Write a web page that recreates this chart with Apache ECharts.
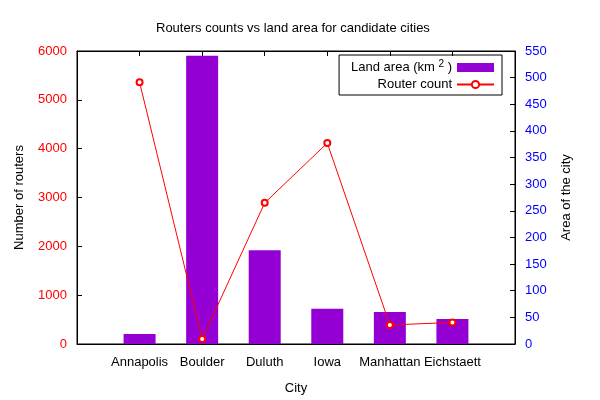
<!DOCTYPE html>
<html>
<head>
<meta charset="utf-8">
<script src="https://cdn.jsdelivr.net/npm/echarts@6/dist/echarts.min.js"></script>
<style>
    html, body { margin: 0; padding: 0; background: #fff; }
    #chart--routers { width: 600px; height: 400px; }
</style>
</head>
<body>
<div id="chart--routers"></div>
<script>
const cities = ['Annapolis', 'Boulder', 'Duluth', 'Iowa', 'Manhattan', 'Eichstaett'];
const landArea = [19, 541, 176, 66, 60, 47];
const routerCount = [5360, 100, 2890, 4115, 390, 440];
const routerTicks = [0, 1000, 2000, 3000, 4000, 5000, 6000];
const areaTicks = [0, 50, 100, 150, 200, 250, 300, 350, 400, 450, 500, 550];

(() => {
    const chartElement = document.querySelector('#chart--routers');
    const routersChart = echarts.init(chartElement, null, { renderer: 'canvas' });
    const fontFamily = '"Liberation Sans", Arial, sans-serif';

    const barData = landArea.map((value, index) => [index, value]);
    const lineData = routerCount.map((value, index) => [index, value]);
    const cityPositions = cities.map((city, index) => index);

    const categoryLabel = (value) => cities[value] ?? '';
    const plainNumber = (value) => String(value);

    routersChart.setOption({
        animation: false,
        textStyle: { fontFamily },
        title: {
            text: 'Routers counts vs land area for candidate cities',
            left: 151,
            top: 17,
            textStyle: {
                color: '#000',
                fontSize: 13,
                fontWeight: 'normal',
                fontFamily
            }
        },
        legend: {
            orient: 'vertical',
            right: 98,
            top: 55,
            align: 'right',
            padding: [4, 7, 4, 12],
            itemGap: 4,
            itemWidth: 37,
            itemHeight: 9,
            borderColor: '#000',
            borderWidth: 1,
            borderRadius: 0,
            data: [
                { name: 'Land area', icon: 'rect' },
                { name: 'Router count', itemStyle: { borderWidth: 1 } }
            ],
            formatter(name) {
                return name === 'Land area' ? 'Land area (km {sup|2} )' : name;
            },
            textStyle: {
                color: '#000',
                fontSize: 13,
                width: 100,
                align: 'right',
                rich: {
                    sup: {
                        fontSize: 10,
                        verticalAlign: 'bottom',
                        padding: [0, 0, 7, 0]
                    }
                }
            }
        },
        grid: {
            left: 77,
            right: 85,
            top: 51,
            bottom: 55,
            show: true,
            borderColor: '#000',
            borderWidth: 1
        },
        xAxis: [
            {
                type: 'value',
                min: -1,
                max: 6,
                interval: 1,
                name: 'City',
                nameLocation: 'middle',
                nameGap: 38,
                nameTextStyle: { color: '#000', fontSize: 13 },
                axisLine: { show: true, onZero: false, lineStyle: { color: '#000' } },
                axisTick: {
                    inside: true,
                    length: 5,
                    lineStyle: { color: '#000' },
                    customValues: cityPositions
                },
                axisLabel: {
                    color: '#000',
                    fontSize: 13,
                    margin: 12,
                    customValues: cityPositions,
                    formatter: categoryLabel
                },
                splitLine: { show: false }
            },
            {
                type: 'value',
                position: 'top',
                min: -1,
                max: 6,
                interval: 1,
                axisLine: { show: true, onZero: false, lineStyle: { color: '#000' } },
                axisTick: {
                    inside: true,
                    length: 5,
                    lineStyle: { color: '#000' },
                    customValues: cityPositions
                },
                axisLabel: { show: false },
                splitLine: { show: false }
            }
        ],
        yAxis: [
            {
                type: 'value',
                position: 'left',
                min: routerTicks[0],
                max: routerTicks[routerTicks.length - 1],
                interval: 1000,
                name: 'Number of routers',
                nameLocation: 'middle',
                nameGap: 51,
                nameTextStyle: { color: '#000', fontSize: 13 },
                axisLine: { show: true, onZero: false, lineStyle: { color: '#000' } },
                axisTick: { inside: true, length: 5, lineStyle: { color: '#000' } },
                axisLabel: { color: '#ff0000', fontSize: 13, margin: 10, formatter: plainNumber },
                splitLine: { show: false }
            },
            {
                type: 'value',
                position: 'right',
                min: areaTicks[0],
                max: areaTicks[areaTicks.length - 1],
                interval: 50,
                name: 'Area of the city',
                nameLocation: 'middle',
                nameGap: 45,
                nameRotate: 90,
                nameTextStyle: { color: '#000', fontSize: 13 },
                axisLine: { show: true, onZero: false, lineStyle: { color: '#000' } },
                axisTick: { inside: true, length: 5, lineStyle: { color: '#000' } },
                axisLabel: { color: '#0000ff', fontSize: 13, margin: 10, formatter: plainNumber },
                splitLine: { show: false }
            }
        ],
        series: [
            {
                name: 'Land area',
                type: 'bar',
                xAxisIndex: 0,
                yAxisIndex: 1,
                barWidth: 32,
                data: barData,
                itemStyle: { color: '#9400d3' },
                z: 1
            },
            {
                name: 'Router count',
                type: 'line',
                xAxisIndex: 0,
                yAxisIndex: 0,
                data: lineData,
                symbol: 'emptyCircle',
                symbolSize: 6,
                lineStyle: { color: '#ff0000', width: 1 },
                itemStyle: { color: '#ff0000', borderWidth: 1.2 },
                z: 3
            }
        ]
    });
})();
</script>
</body>
</html>
